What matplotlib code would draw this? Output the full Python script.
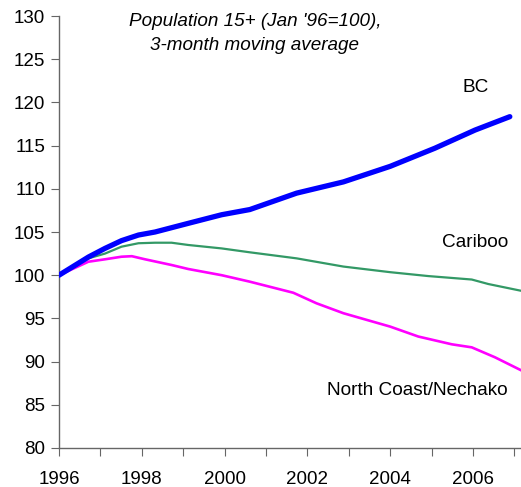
import matplotlib
matplotlib.use("Agg")
import matplotlib.pyplot as plt

plt.rcParams["font.family"] = ["Liberation Sans", "DejaVu Sans"]

# values (index, Jan '96 = 100)
bc_years = [1996.0, 1996.71, 1997.11, 1997.51, 1997.92, 1998.32, 1999.12, 1999.93,
            2000.61, 2001.74, 2002.87, 2004.0, 2005.08, 2006.05, 2006.89]
bc_values = [100.0, 102.1, 103.1, 104.0, 104.65, 105.0, 106.0, 107.0,
             107.6, 109.5, 110.8, 112.6, 114.7, 116.8, 118.35]

cariboo_years = [1996.0, 1996.71, 1997.11, 1997.51, 1997.92, 1998.32, 1998.72, 1999.12,
                 1999.93, 2000.61, 2001.74, 2002.87, 2004.0, 2004.92, 2005.97,
                 2006.37, 2007.16]
cariboo_values = [100.0, 101.95, 102.5, 103.3, 103.7, 103.76, 103.76, 103.5,
                  103.1, 102.65, 101.95, 101.0, 100.35, 99.9, 99.5,
                  98.98, 98.2]

nc_years = [1996.0, 1996.31, 1996.71, 1997.11, 1997.51, 1997.76, 1998.08, 1998.72,
            1999.12, 1999.93, 2000.61, 2001.66, 2002.22, 2002.87, 2004.0,
            2004.68, 2005.49, 2005.97, 2006.53, 2007.16]
nc_values = [100.0, 100.68, 101.56, 101.84, 102.14, 102.2, 101.84, 101.18,
             100.72, 100.0, 99.25, 97.97, 96.75, 95.6, 94.05,
             92.9, 92.0, 91.65, 90.5, 89.0]

y_ticks = list(range(80, 131, 5))
x_ticks = list(range(1996, 2008))
x_labels = [str(y) if y % 2 == 0 else "" for y in x_ticks]

fig = plt.figure(figsize=(5.21, 4.87), dpi=100)
ax = fig.add_axes([0.1132, 0.0801, 0.8868, 0.887])

ax.plot(cariboo_years, cariboo_values, color="#339966", lw=1.6, zorder=2)
ax.plot(nc_years, nc_values, color="#FF00FF", lw=1.9, zorder=2)
ax.plot(bc_years, bc_values, color="#0000FF", lw=3.8, solid_capstyle="round", zorder=3)

ax.set_xlim(1996, 2007.16)
ax.set_ylim(80, 130)
ax.set_yticks(y_ticks)
ax.set_xticks(x_ticks)
ax.set_xticklabels(x_labels)

for side in ("top", "right"):
    ax.spines[side].set_visible(False)
for side in ("left", "bottom"):
    ax.spines[side].set_color("#666666")
    ax.spines[side].set_linewidth(1.0)
ax.tick_params(axis="y", length=6, color="#666666", labelsize=13.5, pad=4)
ax.tick_params(axis="x", length=6, color="#666666", labelsize=13.5, pad=10.5)

ax.text(2000.73, 129.42, "Population 15+ (Jan '96=100),", ha="center", va="center",
        fontsize=13.6, style="italic", clip_on=False)
ax.text(2000.73, 126.64, "3-month moving average", ha="center", va="center",
        fontsize=13.6, style="italic")
ax.text(2006.06, 121.67, "BC", ha="center", va="center", fontsize=13.7)
ax.text(2006.04, 103.84, "Cariboo", ha="center", va="center", fontsize=13.7)
ax.text(2004.66, 86.7, "North Coast/Nechako", ha="center", va="center", fontsize=13.7)

fig.savefig("out.png", dpi=100)
